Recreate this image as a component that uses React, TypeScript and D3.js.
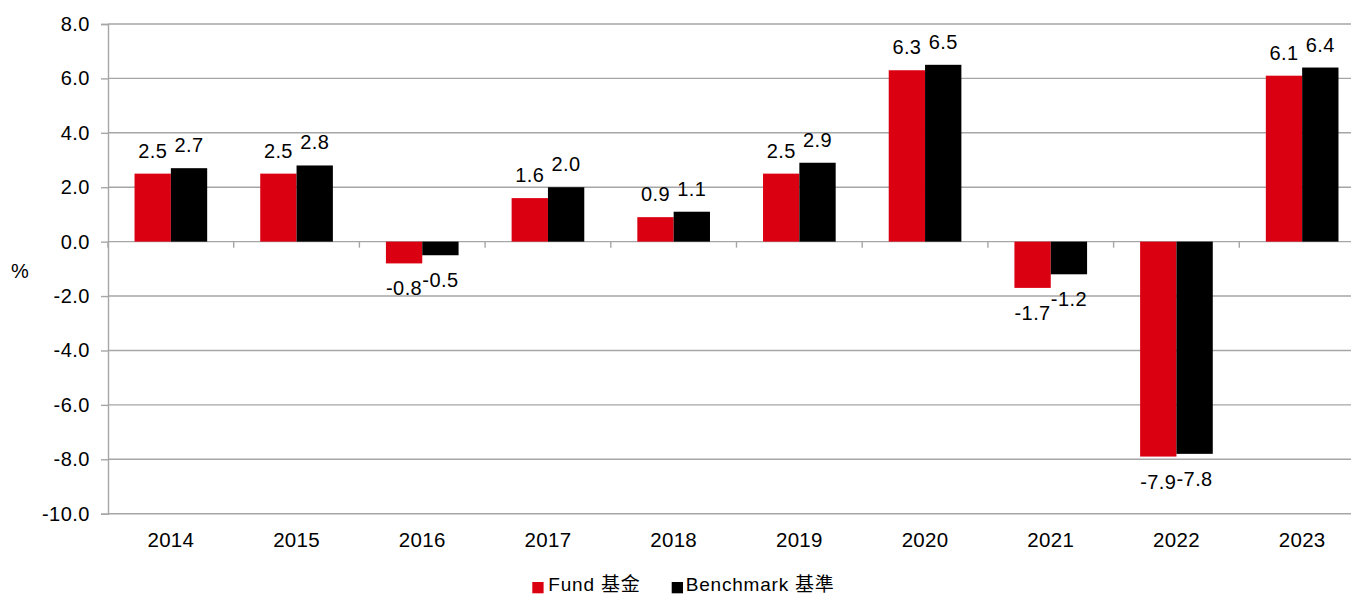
import React, { useEffect, useRef } from 'react';
import * as d3 from 'd3';

const years = ['2014', '2015', '2016', '2017', '2018', '2019', '2020', '2021', '2022', '2023'];
const fundValues = [2.5, 2.5, -0.8, 1.6, 0.9, 2.5, 6.3, -1.7, -7.9, 6.1];
const benchmarkValues = [2.7, 2.8, -0.5, 2.0, 1.1, 2.9, 6.5, -1.2, -7.8, 6.4];
const yTicks = [-10, -8, -6, -4, -2, 0, 2, 4, 6, 8];
const seriesNames = ['Fund 基金', 'Benchmark 基準'];
const seriesColors = ['#DB0011', '#000000'];

const FONT = '"Liberation Sans", Arial, "Noto Sans CJK TC", sans-serif';

const App: React.FC = () => {
  const svgRef = useRef<SVGSVGElement>(null);

  useEffect(() => {
    if (!svgRef.current) return;
    const svg = d3.select(svgRef.current);
    svg.selectAll('*').remove();

    const width = 1351;
    const height = 597;
    const plotLeft = 108;
    const plotRight = 1365; // last band runs past the image edge
    const plotTop = 24;
    const plotBottom = 513.7;

    svg.attr('width', width).attr('height', height);

    const x = d3.scaleBand<string>()
      .domain(years)
      .range([plotLeft, plotRight]);

    const y = d3.scaleLinear()
      .domain([-10, 8])
      .range([plotBottom, plotTop]);

    const groupWidth = x.bandwidth() * 0.578;
    const x1 = d3.scaleBand<number>()
      .domain([0, 1])
      .range([0, groupWidth]);

    const gridColor = '#a6a6a6';

    // gridlines
    svg.append('g')
      .selectAll('line')
      .data(yTicks)
      .enter()
      .append('line')
      .attr('x1', plotLeft)
      .attr('x2', width)
      .attr('y1', d => y(d))
      .attr('y2', d => y(d))
      .attr('stroke', gridColor)
      .attr('stroke-width', 1.4);

    // Y axis
    const yAxis = svg.append('g')
      .attr('transform', `translate(${plotLeft},0)`)
      .call(d3.axisLeft(y).tickValues(yTicks).tickSize(7).tickPadding(11).tickFormat(d => (+d).toFixed(1)));
    yAxis.select('.domain').attr('stroke', gridColor).attr('stroke-width', 1.4);
    yAxis.selectAll('.tick line').attr('stroke', gridColor).attr('stroke-width', 1.4);
    yAxis.selectAll('.tick text')
      .attr('fill', '#000')
      .style('font-family', FONT)
      .style('font-size', '20px')
      .style('letter-spacing', '0.5px');

    // X axis on zero line, ticks between categories
    const boundaries = d3.range(years.length + 1).map(i => plotLeft + i * x.step());
    svg.append('g')
      .selectAll('line')
      .data(boundaries)
      .enter()
      .append('line')
      .attr('x1', d => d)
      .attr('x2', d => d)
      .attr('y1', y(0))
      .attr('y2', y(0) + 6)
      .attr('stroke', gridColor)
      .attr('stroke-width', 1.4);

    svg.append('g')
      .selectAll('text')
      .data(years)
      .enter()
      .append('text')
      .attr('x', d => (x(d) as number) + x.bandwidth() / 2)
      .attr('y', 546.5)
      .attr('text-anchor', 'middle')
      .style('font-family', FONT)
      .style('font-size', '20.5px')
      .style('letter-spacing', '0.3px')
      .text(d => d);

    // bars
    const series = [fundValues, benchmarkValues];
    series.forEach((values, si) => {
      const g = svg.append('g');
      const barX = (i: number) =>
        (x(years[i]) as number) + (x.bandwidth() - groupWidth) / 2 + (x1(si) as number);

      g.selectAll('rect')
        .data(values)
        .enter()
        .append('rect')
        .attr('x', (_d, i) => barX(i))
        .attr('y', d => y(Math.max(0, d)))
        .attr('width', x1.bandwidth())
        .attr('height', d => Math.abs(y(d) - y(0)))
        .attr('fill', seriesColors[si]);

      g.selectAll('text')
        .data(values)
        .enter()
        .append('text')
        .attr('x', (_d, i) => barX(i) + x1.bandwidth() / 2)
        .attr('y', d => (d >= 0 ? y(d) - 16 : y(d) + 32))
        .attr('text-anchor', 'middle')
        .style('font-family', FONT)
        .style('font-size', '20px')
        .style('letter-spacing', '0.4px')
        .text(d => d.toFixed(1));
    });

    // axis title
    svg.append('text')
      .attr('x', 20)
      .attr('y', 278)
      .attr('text-anchor', 'middle')
      .style('font-family', FONT)
      .style('font-size', '20px')
      .text('%');

    // legend
    const legendX = [532.3, 671.7];
    const legend = svg.append('g');
    seriesNames.forEach((name, i) => {
      legend.append('rect')
        .attr('x', legendX[i])
        .attr('y', 582)
        .attr('width', 11.3)
        .attr('height', 11.3)
        .attr('fill', seriesColors[i]);
      legend.append('text')
        .attr('x', legendX[i] + (i === 0 ? 16 : 14))
        .attr('y', 591)
        .style('font-family', FONT)
        .style('font-size', '19px')
        .style('letter-spacing', '0.8px')
        .text(name);
    });
  }, []);

  return (
    <svg ref={svgRef} style={{ position: 'absolute', left: 0, top: 0, background: '#fff' }}></svg>
  );
};

export default App;
